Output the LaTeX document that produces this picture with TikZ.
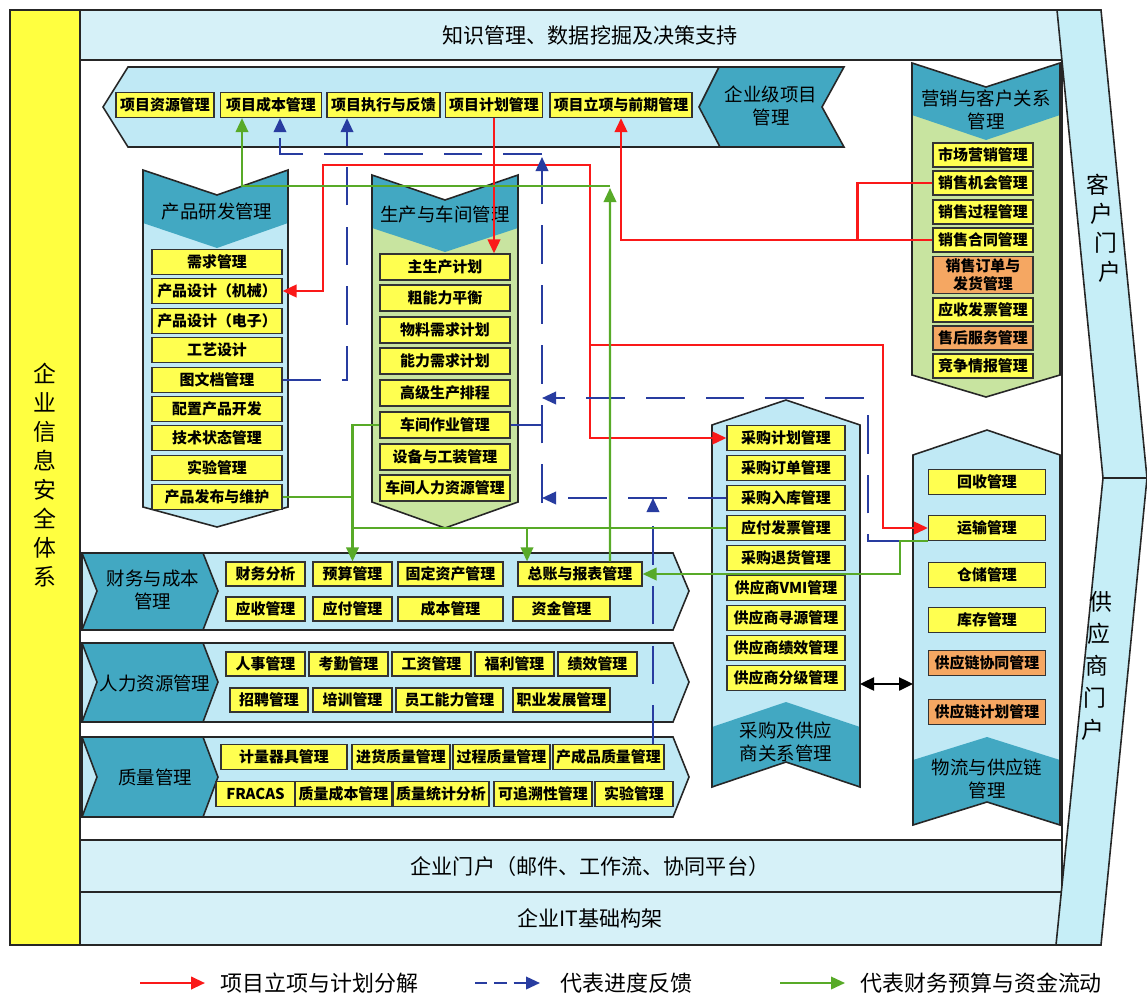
\documentclass[tikz,border=0pt]{standalone}
\usepackage{fontspec}
\setmainfont{Noto Sans CJK SC}
\usepackage{xcolor}
\usetikzlibrary{arrows.meta, positioning, calc}
\definecolor{boxyellow}{RGB}{255,255,80}
\definecolor{boxorange}{RGB}{245,167,98}
\definecolor{secyellow}{RGB}{255,255,64}
\definecolor{headteal}{RGB}{66,168,194}
\definecolor{bodyblue}{RGB}{192,233,245}
\definecolor{bodygreen}{RGB}{200,228,160}
\definecolor{bandcyan}{RGB}{214,241,248}
\definecolor{portalcyan}{RGB}{198,238,247}
\definecolor{planred}{RGB}{250,25,25}
\definecolor{fbblue}{RGB}{40,60,160}
\definecolor{fingreen}{RGB}{88,170,40}

\begin{document}
\begin{tikzpicture}[x=0.02cm, y=-0.02cm]
    \tikzstyle{item} = [rectangle, draw=black!80, line width=0.7pt, fill=boxyellow, inner sep=0pt, align=center, minimum height=0.5cm, font=\bfseries\fontsize{8.5}{10}\selectfont]
    \tikzstyle{hotitem} = [item, fill=boxorange]
    \tikzstyle{head} = [inner sep=0pt, align=center, font=\fontsize{10.5}{13}\selectfont]
    \tikzstyle{band} = [inner sep=0pt, font=\fontsize{12}{14}\selectfont]
    \tikzstyle{portal} = [inner sep=0pt, font=\fontsize{13}{15}\selectfont]
    \tikzstyle{legend} = [inner sep=0pt, anchor=west, font=\fontsize{12.5}{14}\selectfont]
    \tikzstyle{rim} = [draw=black!85, line width=0.9pt]
    \tikzstyle{plan} = [draw=planred, line width=1.4pt, -{Triangle[length=2.8mm, width=2.5mm]}]
    \tikzstyle{fb} = [draw=fbblue, line width=1.2pt, dash pattern=on 22pt off 12pt, -{Triangle[length=2.8mm, width=2.5mm]}]
    \tikzstyle{fin} = [draw=fingreen, line width=1.2pt, -{Triangle[length=2.8mm, width=2.5mm]}]

    \useasboundingbox (0,0) rectangle (1147,998);
    \fill[white] (0,0) rectangle (1147,998);

    % frame
    \draw[rim, fill=secyellow] (10,10) rectangle (80,945);
    \draw[rim, fill=bandcyan] (80,10) rectangle (1062,60);
    \draw[rim] (80,60) rectangle (1062,840);
    \draw[rim, fill=bandcyan] (80,840) rectangle (1062,892);
    \draw[rim, fill=bandcyan] (80,892) rectangle (1062,945);
    \draw[rim, fill=portalcyan] (1057,10) -- (1101,10) -- (1147,478) -- (1103,478) -- cycle;
    \draw[rim, fill=portalcyan] (1103,478) -- (1147,478) -- (1101,945) -- (1056,945) -- cycle;

    \node[band] (kms) at (590,35) {知识管理、数据挖掘及决策支持};
    \node[band] (eportal) at (590,866) {企业门户（邮件、工作流、协同平台）};
    \node[band] (itbase) at (590,918) {企业IT基础构架};
    \node[portal, align=center, font=\fontsize{13}{16.5}\selectfont] (security) at (45,475) {企\\业\\信\\息\\安\\全\\体\\系};
    \foreach \c [count=\i] in {客,户,门,户}
        \node[portal] (cp\i) at (1094+4*\i, 156+29*\i) {\c};
    \foreach \c [count=\i] in {供,应,商,门,户}
        \node[portal] (sp\i) at (1103-2*\i, 570+32*\i) {\c};

    % enterprise project banner
    \draw[rim, fill=bodyblue] (103,107) -- (128,67) -- (725,67) -- (725,147) -- (128,147) -- cycle;
    \draw[rim, fill=headteal] (699,107) -- (719,67) -- (844,67) -- (822,107) -- (844,147) -- (720,147) -- cycle;
    \node[head] (projtitle) at (771,106) {企业级项目\\管理};

    % columns
    \fill[bodyblue] (143,170) -- (217,195) -- (288,170) -- (288,507) -- (217,527) -- (143,507) -- cycle;
    \fill[headteal] (143,170) -- (217,195) -- (288,170) -- (288,223) -- (217,248) -- (143,223) -- cycle;
    \draw[rim] (143,170) -- (217,195) -- (288,170) -- (288,507) -- (217,527) -- (143,507) -- cycle;

    \fill[bodygreen] (372,175) -- (445,200) -- (518,175) -- (518,502) -- (445,528) -- (372,502) -- cycle;
    \fill[headteal] (372,175) -- (445,200) -- (518,175) -- (518,228) -- (445,252) -- (372,228) -- cycle;
    \draw[rim] (372,175) -- (445,200) -- (518,175) -- (518,502) -- (445,528) -- (372,502) -- cycle;

    \fill[bodygreen] (912,63) -- (986,87) -- (1060,63) -- (1060,375) -- (986,397) -- (912,375) -- cycle;
    \fill[headteal] (912,63) -- (986,87) -- (1060,63) -- (1060,115) -- (986,140) -- (912,115) -- cycle;
    \draw[rim] (912,63) -- (986,87) -- (1060,63) -- (1060,375) -- (986,397) -- (912,375) -- cycle;

    \fill[bodyblue] (712,425) -- (786,400) -- (860,425) -- (860,787) -- (786,762) -- (712,787) -- cycle;
    \fill[headteal] (712,727) -- (786,702) -- (860,727) -- (860,787) -- (786,762) -- (712,787) -- cycle;
    \draw[rim] (712,425) -- (786,400) -- (860,425) -- (860,787) -- (786,762) -- (712,787) -- cycle;

    \fill[bodyblue] (913,455) -- (987,430) -- (1060,455) -- (1060,825) -- (987,802) -- (913,825) -- cycle;
    \fill[headteal] (913,760) -- (987,737) -- (1060,760) -- (1060,825) -- (987,802) -- (913,825) -- cycle;
    \draw[rim] (913,455) -- (987,430) -- (1060,455) -- (1060,825) -- (987,802) -- (913,825) -- cycle;

    \node[head] (rdtitle) at (217,212) {产品研发管理};
    \node[head] (prodtitle) at (445,215) {生产与车间管理};
    \node[head] (mkttitle) at (986,110) {营销与客户关系\\管理};
    \node[head] (purtitle) at (786,742) {采购及供应\\商关系管理};
    \node[head] (logtitle) at (987,779) {物流与供应链\\管理};

    % bands
    \draw[rim, fill=bodyblue] (82,553) -- (673,553) -- (689,591) -- (673,630) -- (82,630) -- cycle;
    \draw[rim, fill=headteal] (82,553) -- (203,553) -- (218,591) -- (203,630) -- (82,630) -- (97,591) -- cycle;
    \draw[rim, fill=bodyblue] (82,643) -- (673,643) -- (689,682) -- (673,722) -- (82,722) -- cycle;
    \draw[rim, fill=headteal] (82,643) -- (203,643) -- (218,682) -- (203,722) -- (82,722) -- (97,682) -- cycle;
    \draw[rim, fill=bodyblue] (82,737) -- (673,737) -- (689,777) -- (673,817) -- (82,817) -- cycle;
    \draw[rim, fill=headteal] (82,737) -- (203,737) -- (218,777) -- (203,817) -- (82,817) -- (97,777) -- cycle;
    \node[head] (fintitle) at (153,590) {财务与成本\\管理};
    \node[head] (hrtitle) at (155,683) {人力资源管理};
    \node[head] (qtitle) at (155,777) {质量管理};

    % project items
    \node[item, minimum width=1.96cm] (projres) at (165,105) {项目资源管理};
    \node[item, minimum width=2.02cm] (projcost) at (271,105) {项目成本管理};
    \node[item, minimum width=2.26cm] (projexec) at (383.5,105) {项目执行与反馈};
    \node[item, minimum width=1.94cm] (projplan) at (494,105) {项目计划管理};
    \node[item, minimum width=2.84cm] (projinit) at (621,105) {项目立项与前期管理};

    % product R&D
    \node[item, minimum width=2.6cm] (req) at (217,262) {需求管理};
    \node[item, minimum width=2.6cm] (mechdesign) at (217,291) {产品设计（机械）};
    \node[item, minimum width=2.6cm] (elecdesign) at (217,321) {产品设计（电子）};
    \node[item, minimum width=2.6cm] (craft) at (217,350) {工艺设计};
    \node[item, minimum width=2.6cm] (docs) at (217,380) {图文档管理};
    \node[item, minimum width=2.6cm] (config) at (217,409) {配置产品开发};
    \node[item, minimum width=2.6cm] (techstate) at (217,438) {技术状态管理};
    \node[item, minimum width=2.6cm] (rdtest) at (217,468) {实验管理};
    \node[item, minimum width=2.6cm] (release) at (217,497) {产品发布与维护};

    % production
    \node[item, minimum width=2.6cm, minimum height=0.52cm] (mps) at (445,267) {主生产计划};
    \node[item, minimum width=2.6cm, minimum height=0.52cm] (rccp) at (445,298) {粗能力平衡};
    \node[item, minimum width=2.6cm, minimum height=0.52cm] (mrp) at (445,330) {物料需求计划};
    \node[item, minimum width=2.6cm, minimum height=0.52cm] (crp) at (445,361) {能力需求计划};
    \node[item, minimum width=2.6cm, minimum height=0.52cm] (aps) at (445,393) {高级生产排程};
    \node[item, minimum width=2.6cm, minimum height=0.52cm] (shopfloor) at (445,425) {车间作业管理};
    \node[item, minimum width=2.6cm, minimum height=0.52cm] (tooling) at (445,457) {设备与工装管理};
    \node[item, minimum width=2.6cm, minimum height=0.52cm] (shophr) at (445,488) {车间人力资源管理};

    % marketing
    \node[item, minimum width=2cm, minimum height=0.48cm] (market) at (983,155) {市场营销管理};
    \node[item, minimum width=2cm, minimum height=0.48cm] (salesopp) at (983,183) {销售机会管理};
    \node[item, minimum width=2cm, minimum height=0.48cm] (salesproc) at (983,212) {销售过程管理};
    \node[item, minimum width=2cm, minimum height=0.48cm] (salescontract) at (983,240) {销售合同管理};
    \node[hotitem, minimum width=2cm, minimum height=0.74cm] (salesorder) at (983,275) {销售订单与\\发货管理};
    \node[item, minimum width=2cm, minimum height=0.48cm] (arinvoice) at (983,310) {应收发票管理};
    \node[hotitem, minimum width=2cm, minimum height=0.48cm] (aftersales) at (983,338) {售后服务管理};
    \node[item, minimum width=2cm, minimum height=0.48cm] (intel) at (983,366) {竞争情报管理};

    % purchasing
    \node[item, minimum width=2.36cm] (purplan) at (786,438) {采购计划管理};
    \node[item, minimum width=2.36cm] (purorder) at (786,468) {采购订单管理};
    \node[item, minimum width=2.36cm] (purin) at (786,498) {采购入库管理};
    \node[item, minimum width=2.36cm] (apinvoice) at (786,528) {应付发票管理};
    \node[item, minimum width=2.36cm] (purreturn) at (786,558) {采购退货管理};
    \node[item, minimum width=2.36cm] (vmi) at (786,588) {供应商VMI管理};
    \node[item, minimum width=2.36cm] (sourcing) at (786,618) {供应商寻源管理};
    \node[item, minimum width=2.36cm] (supperf) at (786,648) {供应商绩效管理};
    \node[item, minimum width=2.36cm] (suprank) at (786,678) {供应商分级管理};

    % logistics
    \node[item, minimum width=2.34cm] (recycle) at (987,482) {回收管理};
    \node[item, minimum width=2.34cm] (transport) at (987,528) {运输管理};
    \node[item, minimum width=2.34cm] (storage) at (987,575) {仓储管理};
    \node[item, minimum width=2.34cm] (inventory) at (987,620) {库存管理};
    \node[hotitem, minimum width=2.34cm] (sccollab) at (987,663) {供应链协同管理};
    \node[hotitem, minimum width=2.34cm] (scplan) at (987,712) {供应链计划管理};

    % finance
    \node[item, minimum width=1.58cm, minimum height=0.48cm] (fa) at (265.5,574) {财务分析};
    \node[item, minimum width=1.58cm, minimum height=0.48cm] (budget) at (352.5,574) {预算管理};
    \node[item, minimum width=2.1cm, minimum height=0.48cm] (fixedasset) at (450.5,574) {固定资产管理};
    \node[item, minimum width=2.48cm, minimum height=0.48cm] (ledger) at (580,574) {总账与报表管理};
    \node[item, minimum width=1.58cm, minimum height=0.48cm] (ar) at (265.5,609) {应收管理};
    \node[item, minimum width=1.58cm, minimum height=0.48cm] (ap) at (352.5,609) {应付管理};
    \node[item, minimum width=2.1cm, minimum height=0.48cm] (cost) at (450.5,609) {成本管理};
    \node[item, minimum width=1.94cm, minimum height=0.48cm] (fund) at (561.5,609) {资金管理};

    % human resources
    \node[item, minimum width=1.58cm, minimum height=0.48cm] (staff) at (265.5,664) {人事管理};
    \node[item, minimum width=1.58cm, minimum height=0.48cm] (attend) at (348.5,664) {考勤管理};
    \node[item, minimum width=1.58cm, minimum height=0.48cm] (wage) at (431.5,664) {工资管理};
    \node[item, minimum width=1.58cm, minimum height=0.48cm] (welfare) at (514.5,664) {福利管理};
    \node[item, minimum width=1.58cm, minimum height=0.48cm] (perf) at (597.5,664) {绩效管理};
    \node[item, minimum width=1.56cm, minimum height=0.48cm] (recruit) at (269,700) {招聘管理};
    \node[item, minimum width=1.58cm, minimum height=0.48cm] (train) at (352.5,700) {培训管理};
    \node[item, minimum width=2.14cm, minimum height=0.48cm] (ability) at (449.5,700) {员工能力管理};
    \node[item, minimum width=1.94cm, minimum height=0.48cm] (career) at (561.5,700) {职业发展管理};

    % quality
    \node[item, minimum width=2.52cm] (metrology) at (284,757) {计量器具管理};
    \node[item, minimum width=1.96cm] (incoming) at (401,757) {进货质量管理};
    \node[item, minimum width=1.94cm] (processq) at (501.5,757) {过程质量管理};
    \node[item, minimum width=2.22cm] (finished) at (608.5,757) {产成品质量管理};
    \node[item, minimum width=1.58cm] (fracas) at (255.5,794) {FRACAS};
    \node[item, minimum width=1.94cm] (qcost) at (343.5,794) {质量成本管理};
    \node[item, minimum width=1.92cm] (qstat) at (441,794) {质量统计分析};
    \node[item, minimum width=1.96cm] (trace) at (543,794) {可追溯性管理};
    \node[item, minimum width=1.56cm] (qtest) at (634,794) {实验管理};

    % junctions
    \coordinate (redsplit) at (494,165);
    \coordinate (redturn) at (590,345);
    \coordinate (salesjoin) at ([xshift=-1.5cm]salescontract.west);
    \coordinate (fbtop) at (542,154);
    \coordinate (fbbot) at (542,503);
    \coordinate (fbmid) at (542,398);
    \coordinate (costfb) at ([xshift=0.18cm]projcost.south);
    \coordinate (costin) at ([xshift=-0.58cm]projcost.south);
    \coordinate (execfb) at ([xshift=-0.73cm]projexec.south);
    \coordinate (finishedfb) at ([xshift=0.89cm]finished.north);
    \coordinate (ledgerin) at ([xshift=-1.06cm]ledger.north);
    \coordinate (ledgerout) at ([xshift=0.6cm]ledger.north);
    \coordinate (fintop) at (610,186);
    \coordinate (lgjoin) at ([xshift=-0.56cm]transport.south west);
    \coordinate (purright) at (860,684);
    \coordinate (logleft) at (913,684);

    % plan flow
    \draw[plan] (projplan.south) -- (projplan.south |- mps.north);
    \draw[plan] (redsplit) -- (323,165) |- (mechdesign.east);
    \draw[plan] (redsplit) -- (590,165) |- (purplan.west);
    \draw[plan] (redturn) -- (883,345) |- (transport.west);
    \draw[plan, -] (salesopp.west) -| (salesjoin);
    \draw[plan] (salescontract.west) -| (projinit.south);

    % feedback
    \draw[fb] (docs.east) -| (execfb);
    \draw[fb] (fbtop) -| (costfb);
    \draw[fb] (fbbot) -- ([yshift=-0.06cm]fbtop);
    \draw[fb, -] (shopfloor.east) -- (shopfloor.east -| fbtop);
    \draw[fb] (purin.west) -- (purin.west -| fbtop);
    \draw[fb] (finishedfb) -- (finishedfb |- purin.west);
    \draw[fb] (lgjoin) -| (868,398) -- (fbmid);

    % finance flow
    \draw[fin] (ledgerout) -- ([yshift=-0.04cm]fintop);
    \draw[fin] (fintop) -| (costin);
    \draw[fin] (shopfloor.west) -| (budget.north);
    \draw[fin, -] (release.east) -- (release.east -| budget.north);
    \draw[fin, -] (apinvoice.west) -- (apinvoice.west -| budget.north);
    \draw[fin] (ledgerin |- apinvoice.west) -- (ledgerin);
    \draw[fin] (transport.south west) -- (lgjoin) |- (ledger.east);

    \draw[{Triangle[length=2.8mm, width=2.6mm]}-{Triangle[length=2.8mm, width=2.6mm]}, line width=1.4pt] (purright) -- (logleft);

    % legend
    \node[legend] (lgplan) at (220,983) {项目立项与计划分解};
    \node[legend] (lgfb) at (560,983) {代表进度反馈};
    \node[legend] (lgfin) at (860,983) {代表财务预算与资金流动};
    \draw[plan] ([xshift=-1.6cm]lgplan.west) -- ([xshift=-0.3cm]lgplan.west);
    \draw[fb, dash pattern=on 7pt off 4pt] ([xshift=-1.7cm]lgfb.west) -- ([xshift=-0.4cm]lgfb.west);
    \draw[fin] ([xshift=-1.6cm]lgfin.west) -- ([xshift=-0.3cm]lgfin.west);
\end{tikzpicture}
\end{document}
